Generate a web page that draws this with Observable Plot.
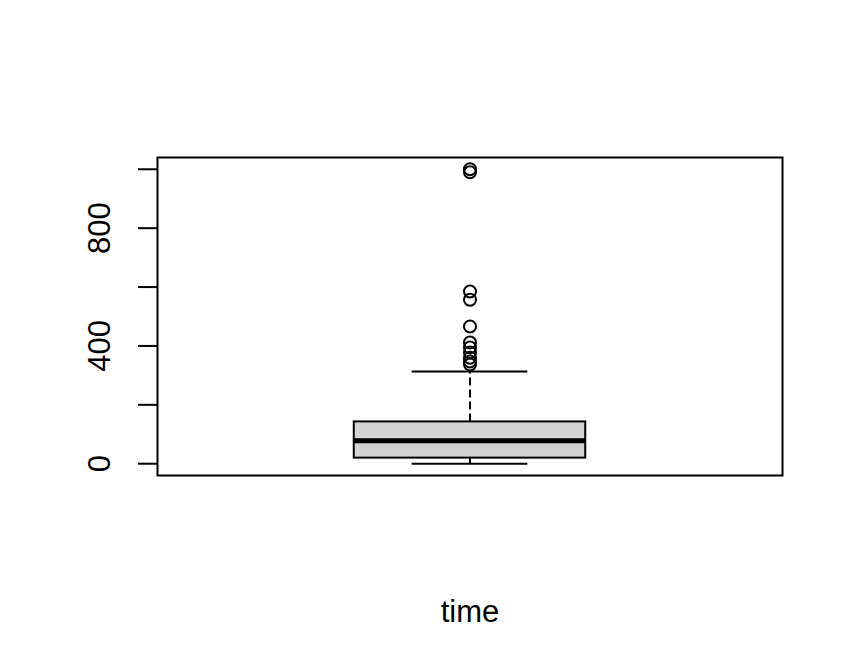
<!DOCTYPE html>
<html>
<head>
<meta charset="utf-8">
<script src="https://cdn.jsdelivr.net/npm/d3@7"></script>
<script src="https://cdn.jsdelivr.net/npm/@observablehq/plot@0.6"></script>
<style>
  html, body { margin: 0; padding: 0; background: #ffffff; }
  #chart { width: 864px; height: 672px; }
</style>
</head>
<body>
<div id="chart"></div>
<script>
// ---- data ----
const variableName = "time";
const whiskerLow = 0;
const quartile1 = 19;
const medianValue = 78;
const quartile3 = 142;
const whiskerHigh = 313;
const outliers = [1000, 990, 585, 557, 466, 412, 395, 378, 360, 347, 337];
const yTicks = [0, 200, 400, 600, 800, 1000];
const yTickLabels = [0, 400, 800];

const boxPos = 1;
const boxHalf = 0.2;
const stapleHalf = 0.1;

const box = [{x1: boxPos - boxHalf, x2: boxPos + boxHalf, y1: quartile1, y2: quartile3}];
const median = [{x1: boxPos - boxHalf, x2: boxPos + boxHalf, y: medianValue}];
const whiskers = [
  {x: boxPos, y1: quartile3, y2: whiskerHigh},
  {x: boxPos, y1: whiskerLow, y2: quartile1}
];
const staples = [
  {x1: boxPos - stapleHalf, x2: boxPos + stapleHalf, y: whiskerHigh},
  {x1: boxPos - stapleHalf, x2: boxPos + stapleHalf, y: whiskerLow}
];
const points = outliers.map(v => ({x: boxPos, y: v}));

const font = "'Liberation Sans', Arial, sans-serif";

const chart = Plot.plot({
  width: 864,
  height: 672,
  marginLeft: 157,
  marginRight: 82,
  marginTop: 157,
  marginBottom: 197,
  style: {fontFamily: font, background: "#ffffff", color: "#000000"},
  x: {domain: [0.46, 1.54], axis: null},
  y: {domain: [-40, 1040], axis: null},
  marks: [
    Plot.ruleX(whiskers, {x: "x", y1: "y1", y2: "y2", stroke: "#000", strokeWidth: 2, strokeDasharray: "8,4"}),
    Plot.ruleY(staples, {x1: "x1", x2: "x2", y: "y", stroke: "#000", strokeWidth: 2}),
    Plot.rect(box, {x1: "x1", x2: "x2", y1: "y1", y2: "y2", fill: "#d3d3d3", stroke: "#000", strokeWidth: 2}),
    Plot.ruleY(median, {x1: "x1", x2: "x2", y: "y", stroke: "#000", strokeWidth: 5}),
    Plot.dot(points, {x: "x", y: "y", r: 6, stroke: "#000", strokeWidth: 2, fill: "none"}),
    Plot.frame({stroke: "#000", strokeWidth: 2}),
    Plot.axisY({ticks: yTicks, tickSize: 19, tickFormat: () => "", stroke: "#000", strokeWidth: 2}),
    Plot.text(yTickLabels, {y: d => d, text: d => String(d), frameAnchor: "left", dx: -57, rotate: -90,
      textAnchor: "middle", lineAnchor: "middle", fontSize: 31, fill: "#000"}),
    Plot.text([variableName], {text: d => d, frameAnchor: "bottom", dy: 137, lineAnchor: "middle",
      textAnchor: "middle", fontSize: 31, fill: "#000"})
  ]
});
document.getElementById("chart").appendChild(chart);
</script>
</body>
</html>
